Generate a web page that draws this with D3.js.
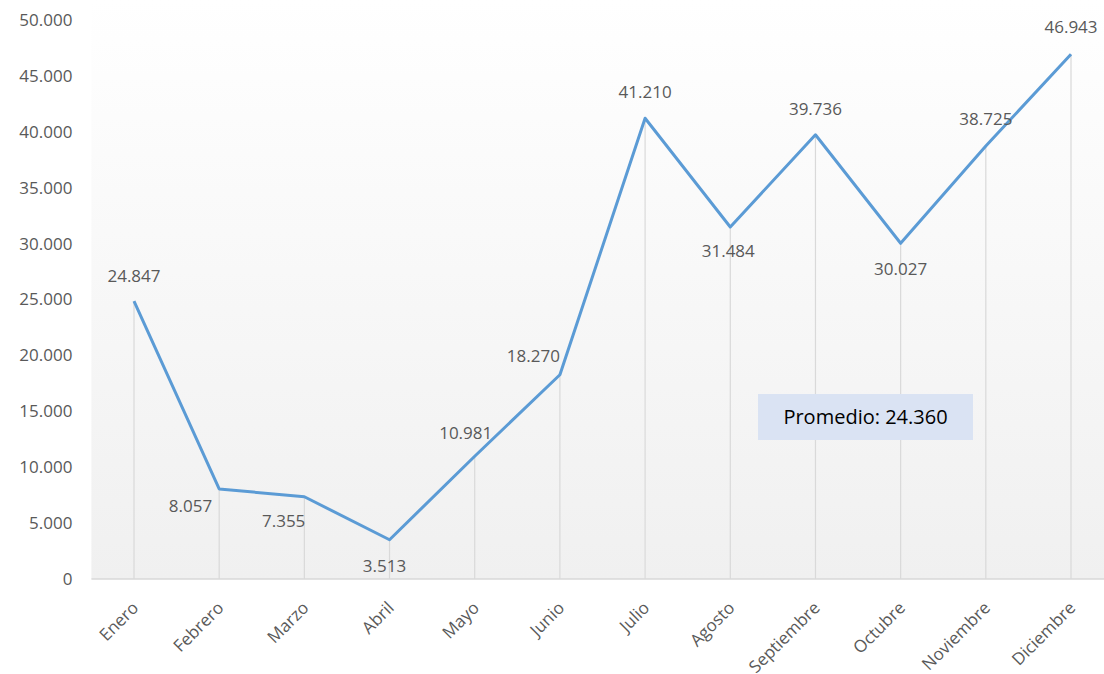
<!DOCTYPE html>
<html><head><meta charset="utf-8">
<script src="https://cdn.jsdelivr.net/npm/d3@7/dist/d3.min.js"></script>
<style>body{margin:0;background:#fff;}svg{display:block;}</style>
</head><body>
<svg id="c" width="1104" height="674"></svg>
<script>
const months = ["Enero","Febrero","Marzo","Abril","Mayo","Junio","Julio","Agosto","Septiembre","Octubre","Noviembre","Diciembre"];
const values = [24847, 8057, 7355, 3513, 10981, 18270, 41210, 31484, 39736, 30027, 38725, 46943];
const yTicks = [0, 5000, 10000, 15000, 20000, 25000, 30000, 35000, 40000, 45000, 50000];
const averageLabel = "Promedio: 24.360";

(function(){
const svg = d3.select("#c");
const pLeft = 91.4, pRight = 1113.6, pTop = 20, pBottom = 579;
const font = "'Open Sans', sans-serif";
const fs = 17;

const x = d3.scalePoint().domain(months).range([pLeft, pRight]).padding(0.5);
const y = d3.scaleLinear().domain([0, 50000]).range([pBottom, pTop]);
const fmt = v => d3.format(",")(v).replace(/,/g, ".");

const defs = svg.append("defs");
const g = defs.append("linearGradient").attr("id","bg").attr("x1",0).attr("y1",0).attr("x2",0).attr("y2",1);
g.append("stop").attr("offset","0%").attr("stop-color","#ffffff");
g.append("stop").attr("offset","100%").attr("stop-color","#f0f0f0");
svg.append("rect").attr("x", pLeft).attr("y", 0).attr("width", pRight-pLeft).attr("height", pBottom)
  .attr("fill","url(#bg)");

svg.append("g").selectAll("line").data(months).join("line")
  .attr("x1", d=>x(d)).attr("x2", d=>x(d))
  .attr("y1", (d,i)=>y(values[i])).attr("y2", pBottom)
  .attr("stroke","#d9d9d9").attr("stroke-width",1.2);

svg.append("line").attr("x1", pLeft).attr("x2", pRight).attr("y1", pBottom).attr("y2", pBottom)
  .attr("stroke","#d9d9d9").attr("stroke-width",1.5);

const ya = svg.append("g").attr("transform",`translate(${pLeft},0)`)
  .call(d3.axisLeft(y).tickValues(yTicks).tickFormat(fmt).tickSize(0).tickPadding(19));
ya.select(".domain").remove();
ya.selectAll("text").attr("font-family", font).attr("font-size", fs).attr("fill","#595959");

const xa = svg.append("g").attr("transform",`translate(0,${pBottom})`)
  .call(d3.axisBottom(x).tickSize(0).tickFormat(d=>d));
xa.select(".domain").remove();
xa.selectAll("text")
  .attr("font-family", font).attr("font-size", fs).attr("fill","#595959")
  .attr("text-anchor","end").attr("dy", 0).attr("y", 0)
  .attr("transform","translate(5,30) rotate(-45)");

svg.append("path").datum(values)
  .attr("fill","none").attr("stroke","#5b9bd5").attr("stroke-width",3).attr("stroke-linejoin","round")
  .attr("d", d3.line().x((d,i)=>x(months[i])).y(d=>y(d)));

// label placement per point: [dx, dy, anchor]
const place = [
  [0,-19,"middle"], [-7,23,"end"], [1,30,"end"], [-5,32,"middle"],
  [-9,-17,"middle"], [0,-13,"end"], [0,-20,"middle"], [-2,30,"middle"],
  [0,-20,"middle"], [0,32,"middle"], [0,-21,"middle"], [0,-21,"middle"]
];
svg.append("g").selectAll("text").data(values).join("text")
  .attr("x", (d,i)=>x(months[i]) + place[i][0])
  .attr("y", (d,i)=>y(d) + place[i][1])
  .attr("text-anchor", (d,i)=>place[i][2])
  .attr("font-family", font).attr("font-size", fs).attr("fill","#595959")
  .text(fmt);

const bx = 758, by = 394, bw = 215, bh = 46;
svg.append("rect").attr("x",bx).attr("y",by).attr("width",bw).attr("height",bh).attr("fill","#dae3f3");
svg.append("text").attr("x", bx+bw/2).attr("y", by+bh/2+7).attr("text-anchor","middle")
  .attr("font-family", font).attr("font-size", 20).attr("fill","#000").text(averageLabel);
})();
</script>
</body></html>
